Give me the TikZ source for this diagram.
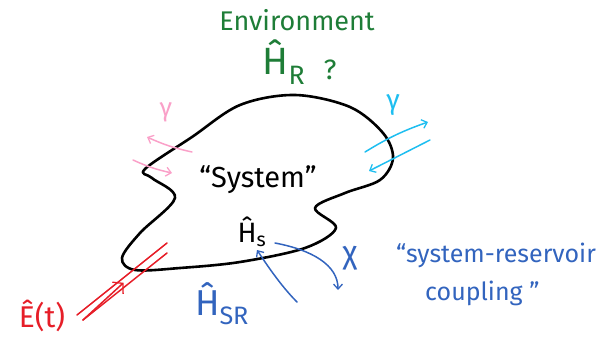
\documentclass[tikz,border=0pt]{standalone}
\usepackage{fontspec}
\setmainfont{Fira Sans}
\usetikzlibrary{arrows.meta,calc}
\definecolor{skGreen}{RGB}{30,125,55}
\definecolor{skPink}{RGB}{250,160,200}
\definecolor{skCyan}{RGB}{30,190,240}
\definecolor{skRed}{RGB}{230,30,40}
\definecolor{skBlue}{RGB}{50,100,190}
\begin{document}
\begin{tikzpicture}[x=1pt,y=-1pt]
\tikzset{
hand/.style={line width=1.5pt,line cap=round,line join=round},
barb/.style={-{Straight Barb[length=5pt,width=9pt,line width=1.3pt]}},
word/.style={inner sep=0pt,anchor=center}
}
\useasboundingbox (0,0) rectangle (605,348);
% the system
\draw[line width=2.6pt,line join=round] plot[smooth cycle,tension=.55] coordinates {
(145,169) (192,137) (240,105) (295,95) (350,107) (383,133) (393,158) (380,180)
(345,193) (315,208) (336,228) (305,248) (240,262) (180,268) (135,270) (122,258)
(140,233) (175,198) (152,178)};
\node[word,font=\fontsize{29}{31}\selectfont] (sys) at (258,180) {“System”};
\node[word,font=\fontsize{28}{30}\selectfont] (hs) at (252,232) {Ĥ\textsubscript{s}};
% environment
\node[word,text=skGreen,font=\fontsize{27}{29}\selectfont] (env) at (297,20) {Environment};
\node[word,text=skGreen,font=\fontsize{38}{40}\selectfont] (hr) at (284,62) {Ĥ\textsubscript{R}};
\node[word,text=skGreen,font=\fontsize{28}{30}\selectfont] (ask) at (330,70) {?};
% decay channels
\node[word,text=skPink,font=\fontsize{26}{28}\selectfont] (gl) at (166,112) {γ};
\coordinate (pl1) at (192,152); \coordinate (pl2) at (147,137);
\coordinate (pl3) at (133,160); \coordinate (pl4) at (172,173);
\draw[hand,barb,draw=skPink] (pl1) to[bend left=6] (pl2);
\draw[hand,barb,draw=skPink] (pl3) to[bend right=6] (pl4);
\node[word,text=skCyan,font=\fontsize{28}{30}\selectfont] (gr) at (393,105) {γ};
\coordinate (cr1) at (365,152); \coordinate (cr2) at (428,122);
\coordinate (cr3) at (430,140); \coordinate (cr4) at (369,171);
\draw[hand,barb,draw=skCyan] (cr1) to[bend left=6] (cr2);
\draw[hand,barb,draw=skCyan] (cr3) -- (cr4);
% drive
\node[word,text=skRed,font=\fontsize{30}{32}\selectfont] (drv) at (42,316) {Ê(t)};
\coordinate (ea1) at (77,315); \coordinate (ea2) at (167,243);
\coordinate (eb1) at (83,320); \coordinate (eb2) at (167,253);
\draw[hand,draw=skRed] (ea1) -- (ea2);
\draw[hand,draw=skRed] (eb1) -- (eb2);
\draw[hand,draw=skRed,-{Straight Barb[length=7pt,width=16pt,line width=1.3pt]}] (eb1) -- ($(ea1)!.5!(ea2)!.5!($(eb1)!.5!(eb2)$)$);
% coupling
\node[word,text=skBlue,font=\fontsize{36}{38}\selectfont] (hsr) at (222,304) {Ĥ\textsubscript{SR}};
\node[word,text=skBlue,font=\fontsize{32}{34}\selectfont] (chi) at (350,258) {χ};
\coordinate (ba1) at (297,302); \coordinate (ba2) at (257,250);
\coordinate (bb1) at (275,243); \coordinate (bb2) at (338,290);
\draw[hand,barb,draw=skBlue] (ba1) .. controls (280,285) and (265,262) .. (ba2);
\draw[hand,barb,draw=skBlue] (bb1) .. controls (312,250) and (338,265) .. (bb2);
\node[word,anchor=west,text=skBlue,font=\fontsize{25}{27}\selectfont] (src) at (396,255) {“system-reservoir};
\node[word,anchor=west,text=skBlue,font=\fontsize{25}{27}\selectfont] (cpl) at (425,293) {coupling ”};
\end{tikzpicture}
\end{document}
